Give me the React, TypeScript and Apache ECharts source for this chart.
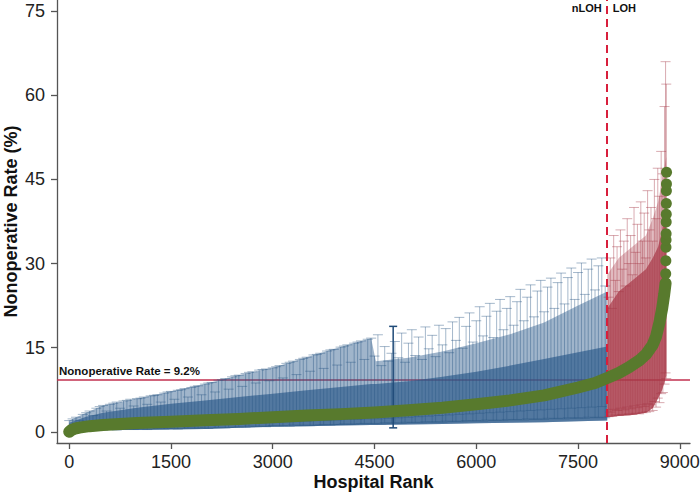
import React, { useEffect, useRef } from "react";
import * as echarts from "echarts";

// ---- axis ticks ----
const xTicks = [0, 1500, 3000, 4500, 6000, 7500, 9000];
const yTicks = [0, 15, 30, 45, 60, 75];
const nationalRate = 9.2;
const cutoffRank = 7930;

// ---- green points: hospital rank vs nonoperative rate ----
const greenRank = [0, 30, 80, 150, 300, 500, 750, 1000, 1500, 2000, 2500, 3000, 3500, 4000, 4500, 5000, 5500, 6000, 6500, 7000, 7500, 7750, 7930, 8100, 8250, 8400, 8500, 8600, 8650, 8700, 8740, 8770, 8790];
const greenRate = [0.0, 0.3, 0.55, 0.75, 1.0, 1.2, 1.4, 1.55, 1.8, 2.05, 2.3, 2.6, 2.9, 3.15, 3.45, 3.85, 4.3, 4.9, 5.6, 6.5, 7.9, 8.7, 9.6, 10.5, 11.5, 12.7, 13.8, 15.5, 17.0, 19.5, 22.0, 24.5, 26.5];
const topRank = [8792, 8794, 8796, 8797, 8798, 8799, 8800, 8801, 8802, 8803, 8804];
const topRate = [28.2, 30.5, 32.9, 34.2, 35.3, 37.4, 38.8, 40.7, 43.0, 44.2, 46.3];

// ---- nLOH confidence intervals (every 50 ranks, 0..7900) ----
const blueStart = 0;
const blueStep = 50;
const blueHigh = [
  2.0, 2.3, 2.6, 2.0, 3.1, 3.4, 3.7, 2.9, 4.2, 4.5,
  4.7, 3.7, 4.9, 5.1, 5.3, 4.2, 5.5, 5.6, 5.8, 4.6,
  5.9, 6.0, 6.2, 4.9, 6.4, 6.5, 6.6, 5.3, 6.9, 7.1,
  7.2, 5.8, 7.4, 7.5, 7.7, 6.2, 7.9, 8.1, 8.2, 6.6,
  8.5, 8.7, 8.8, 7.1, 9.2, 9.3, 9.5, 7.6, 9.8, 10.0,
  10.1, 8.1, 10.4, 10.6, 10.7, 8.7, 11.0, 11.1, 11.2, 9.1,
  11.4, 11.6, 11.8, 9.6, 12.2, 12.4, 12.6, 10.2, 12.9, 13.1,
  13.3, 10.8, 13.7, 13.8, 14.0, 11.3, 14.4, 14.6, 14.7, 11.9,
  15.1, 15.3, 15.5, 12.4, 15.8, 16.0, 16.2, 12.9, 16.5, 16.7,
  13.5, 17.3, 11.8, 15.2, 12.6, 14.0, 16.1, 13.2, 17.6, 12.4,
  15.8, 18.2, 13.6, 16.9, 12.9, 18.7, 14.8, 17.2, 13.4, 19.0,
  15.5, 18.4, 14.1, 19.6, 16.3, 20.4, 14.9, 18.8, 21.2, 16.0,
  19.8, 22.3, 17.1, 20.6, 22.9, 16.8, 21.5, 23.6, 18.2, 22.0,
  24.1, 19.0, 23.2, 25.4, 19.8, 24.0, 26.2, 20.5, 25.1, 27.0,
  21.4, 25.8, 27.4, 22.0, 26.6, 28.3, 22.8, 27.5, 29.2, 23.6,
  28.4, 30.1, 24.5, 29.0, 30.8, 25.3, 29.6, 31.0, 26.0,
];
const blueLow = [
  0.2, 0.3, 0.2, 0.4, 0.3, 0.3, 0.5, 0.3, 0.4, 0.6,
  0.3, 0.4, 0.6, 0.4, 0.3, 0.7, 0.4, 0.5, 0.8, 0.4,
  0.5, 0.8, 0.5, 0.4, 0.9, 0.5, 0.6, 0.9, 0.5, 0.6,
  1.0, 0.6, 0.5, 1.0, 0.6, 0.7, 1.1, 0.6, 0.7, 1.2,
  0.7, 0.6, 1.2, 0.7, 0.8, 1.3, 0.7, 0.8, 1.4, 0.8,
  0.9, 1.4, 0.8, 1.0, 1.5, 0.9, 1.0, 1.6, 0.9, 1.0,
  1.1, 1.7, 1.0, 1.1, 1.8, 1.0, 1.2, 1.8, 1.1, 1.2,
  1.9, 1.1, 1.2, 2.0, 1.2, 1.3, 2.0, 1.2, 1.3, 2.1,
  1.3, 1.4, 2.2, 1.3, 1.4, 2.2, 1.4, 1.5, 2.3, 1.4,
  1.5, 2.3, 1.4, 1.6, 2.4, 1.5, 1.6, 2.5, 1.5, 1.7,
  2.6, 1.6, 1.7, 2.7, 1.6, 1.8, 2.8, 1.7, 1.8, 2.9,
  1.7, 1.9, 3.0, 1.8, 1.9, 3.1, 1.8, 2.0, 3.2, 1.9,
  2.0, 3.3, 1.9, 2.1, 3.4, 2.0, 2.1, 3.5, 2.0, 2.2,
  3.6, 2.1, 2.2, 3.7, 2.1, 2.3, 3.8, 2.2, 2.3, 3.9,
  2.2, 2.4, 4.0, 2.3, 2.4, 4.1, 2.3, 2.5, 4.2, 2.4,
  2.5, 4.3, 2.4, 2.6, 4.4, 2.5, 2.6, 4.5, 2.5,
];
// single outlying hospital with a wide interval
const outlierBar = [4775, 0.7, 18.8];

// dense nLOH band
const blueBandRank = [0, 250, 500, 1000, 1500, 2000, 2500, 3000, 3500, 4000, 4450, 4520, 5000, 5500, 6000, 6500, 7000, 7500, 7930];
const blueBandLow = [0.2, 0.3, 0.3, 0.3, 0.4, 0.5, 0.7, 0.9, 1.0, 1.1, 1.2, 1.2, 1.3, 1.4, 1.5, 1.6, 1.7, 1.9, 2.0];
const blueInnerTop = [1.6, 2.7, 3.4, 4.3, 5.0, 5.6, 6.2, 6.8, 7.4, 8.0, 8.5, 8.5, 9.0, 9.8, 10.7, 11.8, 13.0, 14.2, 15.2];
const blueOuterTop = [2.0, 3.4, 4.7, 5.9, 7.2, 8.5, 10.1, 11.4, 13.3, 15.1, 16.7, 12.6, 13.2, 14.3, 15.8, 17.4, 19.5, 22.5, 25.0];

// ---- LOH confidence intervals (every 25 ranks, 7950..8800) ----
const redStart = 7950;
const redStep = 25;
const redHigh = [24, 31, 22, 35, 27, 33, 25, 36, 29, 34, 26, 38, 30, 35, 28, 40, 32, 37, 30, 41, 34, 39, 31, 43, 36, 40, 34, 45, 38, 47, 42, 50, 46, 58, 62];
const redLow = [2.7, 3.5, 2.8, 4.0, 3.0, 3.8, 2.9, 4.2, 3.1, 3.9, 3.0, 4.4, 3.2, 4.1, 3.1, 4.6, 3.3, 4.3, 3.2, 4.8, 3.4, 4.5, 3.5, 5.0, 3.6, 4.8, 3.8, 5.4, 4.4, 6.0, 5.2, 6.8, 7.0, 8.5, 9.5];
const redPeakBar = [8790, 10.5, 66];

const redBandRank = [7930, 8100, 8300, 8500, 8600, 8680, 8740, 8800];
const redBandLow = [2.6, 2.8, 3.0, 3.4, 4.2, 6.0, 7.5, 10.0];
const redInnerTop = [22, 25, 27, 29, 31, 33, 36, 40];
const redOuterTop = [28, 31, 33, 35, 38, 41, 45, 49];

const FONT = "'Liberation Sans', Arial, Helvetica, sans-serif";
const GREEN = "#587a2d";

function barRender(color: string, half: number, width: number) {
  return (params: any, api: any) => {
    const x = api.value(0);
    const a = api.coord([x, api.value(1)]);
    const b = api.coord([x, api.value(2)]);
    const st = () => ({ stroke: color, lineWidth: width, fill: "none" });
    return {
      type: "group",
      children: [
        { type: "line", shape: { x1: a[0], y1: a[1], x2: b[0], y2: b[1] }, style: st() },
        { type: "line", shape: { x1: a[0] - half, y1: a[1], x2: a[0] + half, y2: a[1] }, style: st() },
        { type: "line", shape: { x1: b[0] - half, y1: b[1], x2: b[0] + half, y2: b[1] }, style: st() },
      ],
    };
  };
}

function bandRender(ranks: number[], low: number[], top: number[], color: string) {
  return (params: any, api: any) => {
    if (params.dataIndex !== 0) return null;
    const pts: number[][] = [];
    for (let i = 0; i < ranks.length; i++) pts.push(api.coord([ranks[i], top[i]]));
    for (let i = ranks.length - 1; i >= 0; i--) pts.push(api.coord([ranks[i], low[i]]));
    return { type: "polygon", shape: { points: pts }, style: { fill: color } };
  };
}

export default function App() {
  const ref = useRef<HTMLDivElement>(null);
  useEffect(() => {
    if (!ref.current) return;
    const chart = echarts.init(ref.current, undefined, { renderer: "svg" });

    const blueBars = blueHigh.map((h, i) => [blueStart + i * blueStep, blueLow[i], h]);
    const redBars = redHigh.map((h, i) => [redStart + i * redStep, redLow[i], h]);
    redBars.push(redPeakBar);
    const band = (r: number[], l: number[], t: number[]) => r.map((x, i) => [x, l[i], t[i]]);

    const axisLineStyle = { color: "#555", width: 1.3 };

    chart.setOption({
      animation: false,
      backgroundColor: "#ffffff",
      grid: { left: 57, right: 10, top: 0, bottom: 51, containLabel: false, outerBoundsMode: "none" },
      xAxis: {
        type: "value",
        min: -180,
        max: 9150,
        name: "Hospital Rank",
        nameLocation: "middle",
        nameGap: 30,
        nameMoveOverlap: false,
        nameTextStyle: { fontFamily: FONT, fontSize: 18, fontWeight: "bold", color: "#111" },
        axisLine: { show: true, onZero: false, lineStyle: axisLineStyle },
        axisTick: { show: true, length: 6, customValues: xTicks, lineStyle: axisLineStyle },
        axisLabel: {
          customValues: xTicks,
          formatter: (v: number) => String(v),
          fontFamily: FONT,
          fontSize: 18,
          color: "#222",
          margin: 10,
        },
        splitLine: { show: false },
      },
      yAxis: {
        type: "value",
        min: -2,
        max: 77,
        name: "Nonoperative Rate (%)",
        nameLocation: "middle",
        nameGap: 37,
        nameMoveOverlap: false,
        nameTextStyle: { fontFamily: FONT, fontSize: 18, fontWeight: "bold", color: "#111" },
        axisLine: { show: true, onZero: false, lineStyle: axisLineStyle },
        axisTick: { show: true, length: 6, customValues: yTicks, lineStyle: axisLineStyle },
        axisLabel: {
          customValues: yTicks,
          formatter: (v: number) => String(v),
          fontFamily: FONT,
          fontSize: 18,
          color: "#222",
          margin: 12,
        },
        splitLine: { show: false },
      },
      series: [
        {
          type: "line",
          data: [],
          z: 1,
          markLine: {
            silent: true,
            z: 1,
            symbol: ["none", "none"],
            lineStyle: { color: "#c2304f", width: 1.5, type: "solid" },
            label: {
              show: true,
              position: "insideStartTop",
              formatter: "Nonoperative Rate = " + nationalRate + "%",
              fontFamily: FONT,
              fontSize: 11.5,
              fontWeight: "bold",
              color: "#111",
              distance: [2, 3],
            },
            data: [{ yAxis: nationalRate }],
          },
        },
        {
          type: "custom",
          z: 2,
          renderItem: bandRender(blueBandRank, blueBandLow, blueOuterTop, "rgba(45,92,140,0.45)"),
          data: band(blueBandRank, blueBandLow, blueOuterTop),
          encode: { x: 0, y: [1, 2] },
          silent: true,
        },
        {
          type: "custom",
          z: 2,
          renderItem: bandRender(blueBandRank, blueBandLow, blueInnerTop, "rgba(45,92,140,0.68)"),
          data: band(blueBandRank, blueBandLow, blueInnerTop),
          encode: { x: 0, y: [1, 2] },
          silent: true,
        },
        {
          type: "custom",
          z: 2,
          renderItem: bandRender(redBandRank, redBandLow, redOuterTop, "rgba(170,60,75,0.35)"),
          data: band(redBandRank, redBandLow, redOuterTop),
          encode: { x: 0, y: [1, 2] },
          silent: true,
        },
        {
          type: "custom",
          z: 2,
          renderItem: bandRender(redBandRank, redBandLow, redInnerTop, "rgba(170,60,75,0.72)"),
          data: band(redBandRank, redBandLow, redInnerTop),
          encode: { x: 0, y: [1, 2] },
          silent: true,
        },
        {
          type: "custom",
          z: 3,
          renderItem: barRender("rgba(40,85,132,0.42)", 5, 1),
          data: blueBars,
          encode: { x: 0, y: [1, 2] },
          silent: true,
        },
        {
          type: "custom",
          z: 3,
          renderItem: barRender("rgba(165,55,70,0.42)", 5, 1),
          data: redBars,
          encode: { x: 0, y: [1, 2] },
          silent: true,
        },
        {
          type: "custom",
          z: 3,
          renderItem: barRender("#1f4a78", 4, 1.5),
          data: [outlierBar],
          encode: { x: 0, y: [1, 2] },
          silent: true,
        },
        {
          type: "line",
          data: [],
          z: 4,
          markLine: {
            silent: true,
            z: 4,
            symbol: ["none", "none"],
            lineStyle: { color: "#d81f3c", width: 2, type: [8, 5] },
            label: { show: false },
            data: [{ xAxis: cutoffRank }],
          },
          markPoint: {
            silent: true,
            z: 4,
            symbol: "circle",
            symbolSize: 1,
            itemStyle: { color: "rgba(0,0,0,0)" },
            label: { show: true, fontFamily: FONT, fontSize: 11, fontWeight: "bold", color: "#111", distance: 5 },
            data: [
              { coord: [cutoffRank, 75.6], label: { formatter: "nLOH", position: "left" } },
              { coord: [cutoffRank, 75.6], label: { formatter: "LOH", position: "right" } },
            ],
          },
        },
        {
          type: "line",
          z: 5,
          data: greenRank.map((r, i) => [r, greenRate[i]]),
          symbol: "none",
          lineStyle: { color: GREEN, width: 12, cap: "round", join: "round" },
          silent: true,
        },
        {
          type: "scatter",
          z: 5,
          data: topRank.map((r, i) => [r, topRate[i]]),
          symbolSize: 11,
          itemStyle: { color: GREEN, opacity: 1 },
          silent: true,
        },
      ],
    });
    return () => chart.dispose();
  }, []);
  return <div ref={ref} style={{ position: "fixed", left: 0, top: 0, width: 700, height: 494 }} />;
}
